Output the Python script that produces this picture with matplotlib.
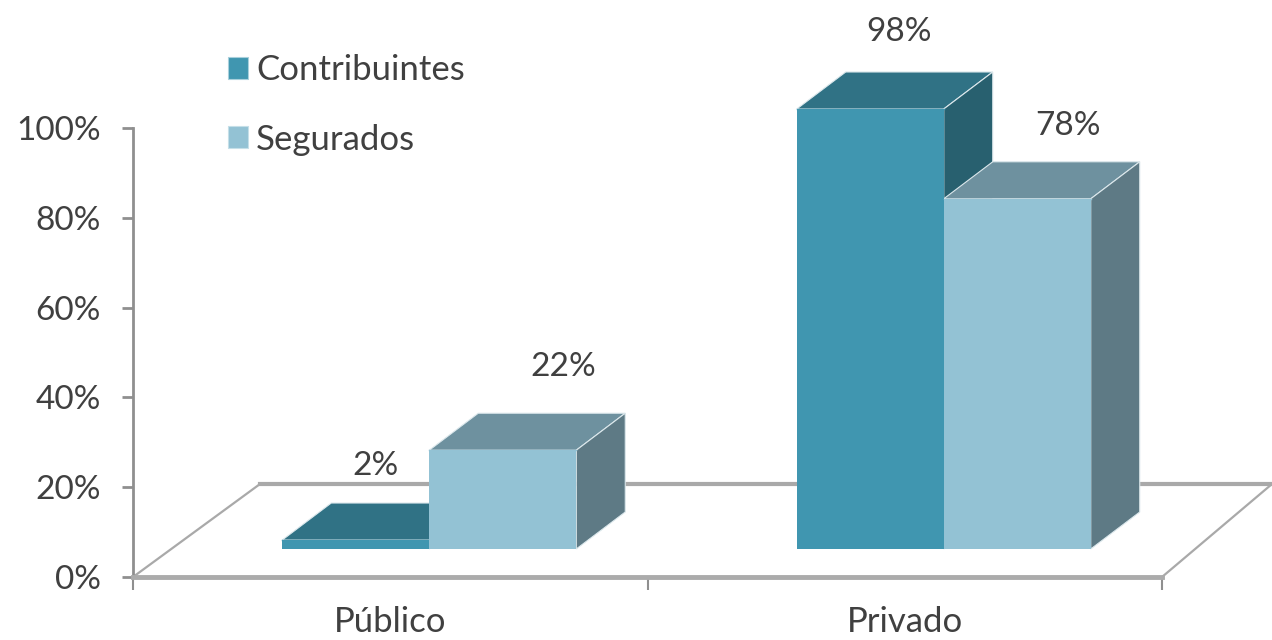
import matplotlib
matplotlib.use("Agg")
import matplotlib.pyplot as plt
from matplotlib.patches import Patch, Polygon

categories = ["Público", "Privado"]
series_names = ["Contribuintes", "Segurados"]
contribuintes = [2, 98]
segurados = [22, 78]
y_ticks = [0, 20, 40, 60, 80, 100]

# colours: front, top, side
colors_contrib = ("#4096b0", "#307285", "#28606f")
colors_seg = ("#93c2d4", "#6e919f", "#5e7a85")
text_color = "#404040"

plt.rcParams["font.family"] = ["Lato", "DejaVu Sans"]

W, H = 1272, 640
LEFT, RIGHT, TOP, BOTTOM = 133, 1162, 128, 577
fig = plt.figure(figsize=(W / 100, H / 100), dpi=100)
ax = fig.add_axes([LEFT / W, (H - BOTTOM) / H, (RIGHT - LEFT) / W, (BOTTOM - TOP) / H])
ax.set_xlim(0, 2)
ax.set_ylim(0, 100)

# pixels to data units
px_x = 2 / (RIGHT - LEFT)
px_y = 100 / (BOTTOM - TOP)

bar_w = 147 * px_x
depth_x = 49 * px_x
depth_y = 37 * px_y
base = 28 * px_y
shift = 39 * px_x
floor_back = 93 * px_y
floor_dx = 127 * px_x


def draw_bar(x0, value, cols):
    ax.bar(x0, value, bar_w, bottom=base, align="edge", color=cols[0],
           edgecolor="none", clip_on=False, zorder=3)
    y1 = base + value
    x1 = x0 + bar_w
    top = [(x0, y1), (x1, y1), (x1 + depth_x, y1 + depth_y), (x0 + depth_x, y1 + depth_y)]
    side = [(x1, base), (x1 + depth_x, base + depth_y), (x1 + depth_x, y1 + depth_y), (x1, y1)]
    for pts, c in ((top, cols[1]), (side, cols[2])):
        ax.add_patch(Polygon(pts, closed=True, facecolor=c, edgecolor="#dce8ec",
                             linewidth=0.8, clip_on=False, zorder=2))
    ax.plot([x0, x1], [y1, y1], color=cols[0], lw=1, clip_on=False, zorder=3)


# floor of the 3d box
floor_c = "#a9a9a9"
ax.plot([0, floor_dx], [0, floor_back], color=floor_c, lw=1.6, clip_on=False, zorder=1)
ax.plot([floor_dx, 2 + 110 * px_x], [floor_back, floor_back], color=floor_c, lw=3, clip_on=False, zorder=1)
ax.plot([2, 2 + 110 * px_x], [0, floor_back], color=floor_c, lw=1.6, clip_on=False, zorder=1)

# offsets of the value labels from the bar top, in pixels
label_off = [[(20, 74), (61, 83)], [(29, 77), (51, 73)]]

for i, cat in enumerate(categories):
    centre = i + 0.5
    x_a = centre + shift - bar_w
    x_b = centre + shift
    draw_bar(x_a, contribuintes[i], colors_contrib)
    draw_bar(x_b, segurados[i], colors_seg)
    for x0, v, off in ((x_a, contribuintes[i], label_off[i][0]), (x_b, segurados[i], label_off[i][1])):
        ax.text(x0 + bar_w / 2 + off[0] * px_x, base + v + off[1] * px_y, f"{v}%",
                ha="center", va="center", fontsize=24, color=text_color, clip_on=False, zorder=5)

# axes
for s in ("top", "right"):
    ax.spines[s].set_visible(False)
ax.spines["left"].set_color("#8f8f8f")
ax.spines["left"].set_linewidth(2)
ax.spines["left"].set_zorder(1)
ax.spines["bottom"].set_color("#ababab")
ax.spines["bottom"].set_linewidth(3.5)
ax.set_facecolor("none")

ax.set_yticks(y_ticks)
ax.set_yticklabels([f"{t}%" for t in y_ticks], fontsize=24, color=text_color)
ax.tick_params(axis="y", length=8, width=2, color="#8f8f8f", pad=15)
ax.set_xticks([0, 1, 2])
ax.set_xticklabels([])
ax.tick_params(axis="x", which="major", length=9, width=1.5, color="#8f8f8f")
ax.set_xticks([0.5, 1.5], minor=True)
ax.set_xticklabels(categories, minor=True, fontsize=25, color=text_color)
ax.tick_params(axis="x", which="minor", length=0, pad=21)

handles = [Patch(facecolor=colors_contrib[0], edgecolor="#a9d0dc", lw=0.8),
           Patch(facecolor=colors_seg[0], edgecolor="#c5dfe8", lw=0.8)]
leg = fig.legend(handles, series_names, loc="upper left", bbox_to_anchor=(228 / W, 1 - 54 / H),
                 frameon=False, fontsize=25, handlelength=0.58, handleheight=0.58,
                 handletextpad=0.23, labelspacing=1.08, borderpad=0, borderaxespad=0,
                 labelcolor=text_color)

fig.savefig("out.png", dpi=100, facecolor="white")
